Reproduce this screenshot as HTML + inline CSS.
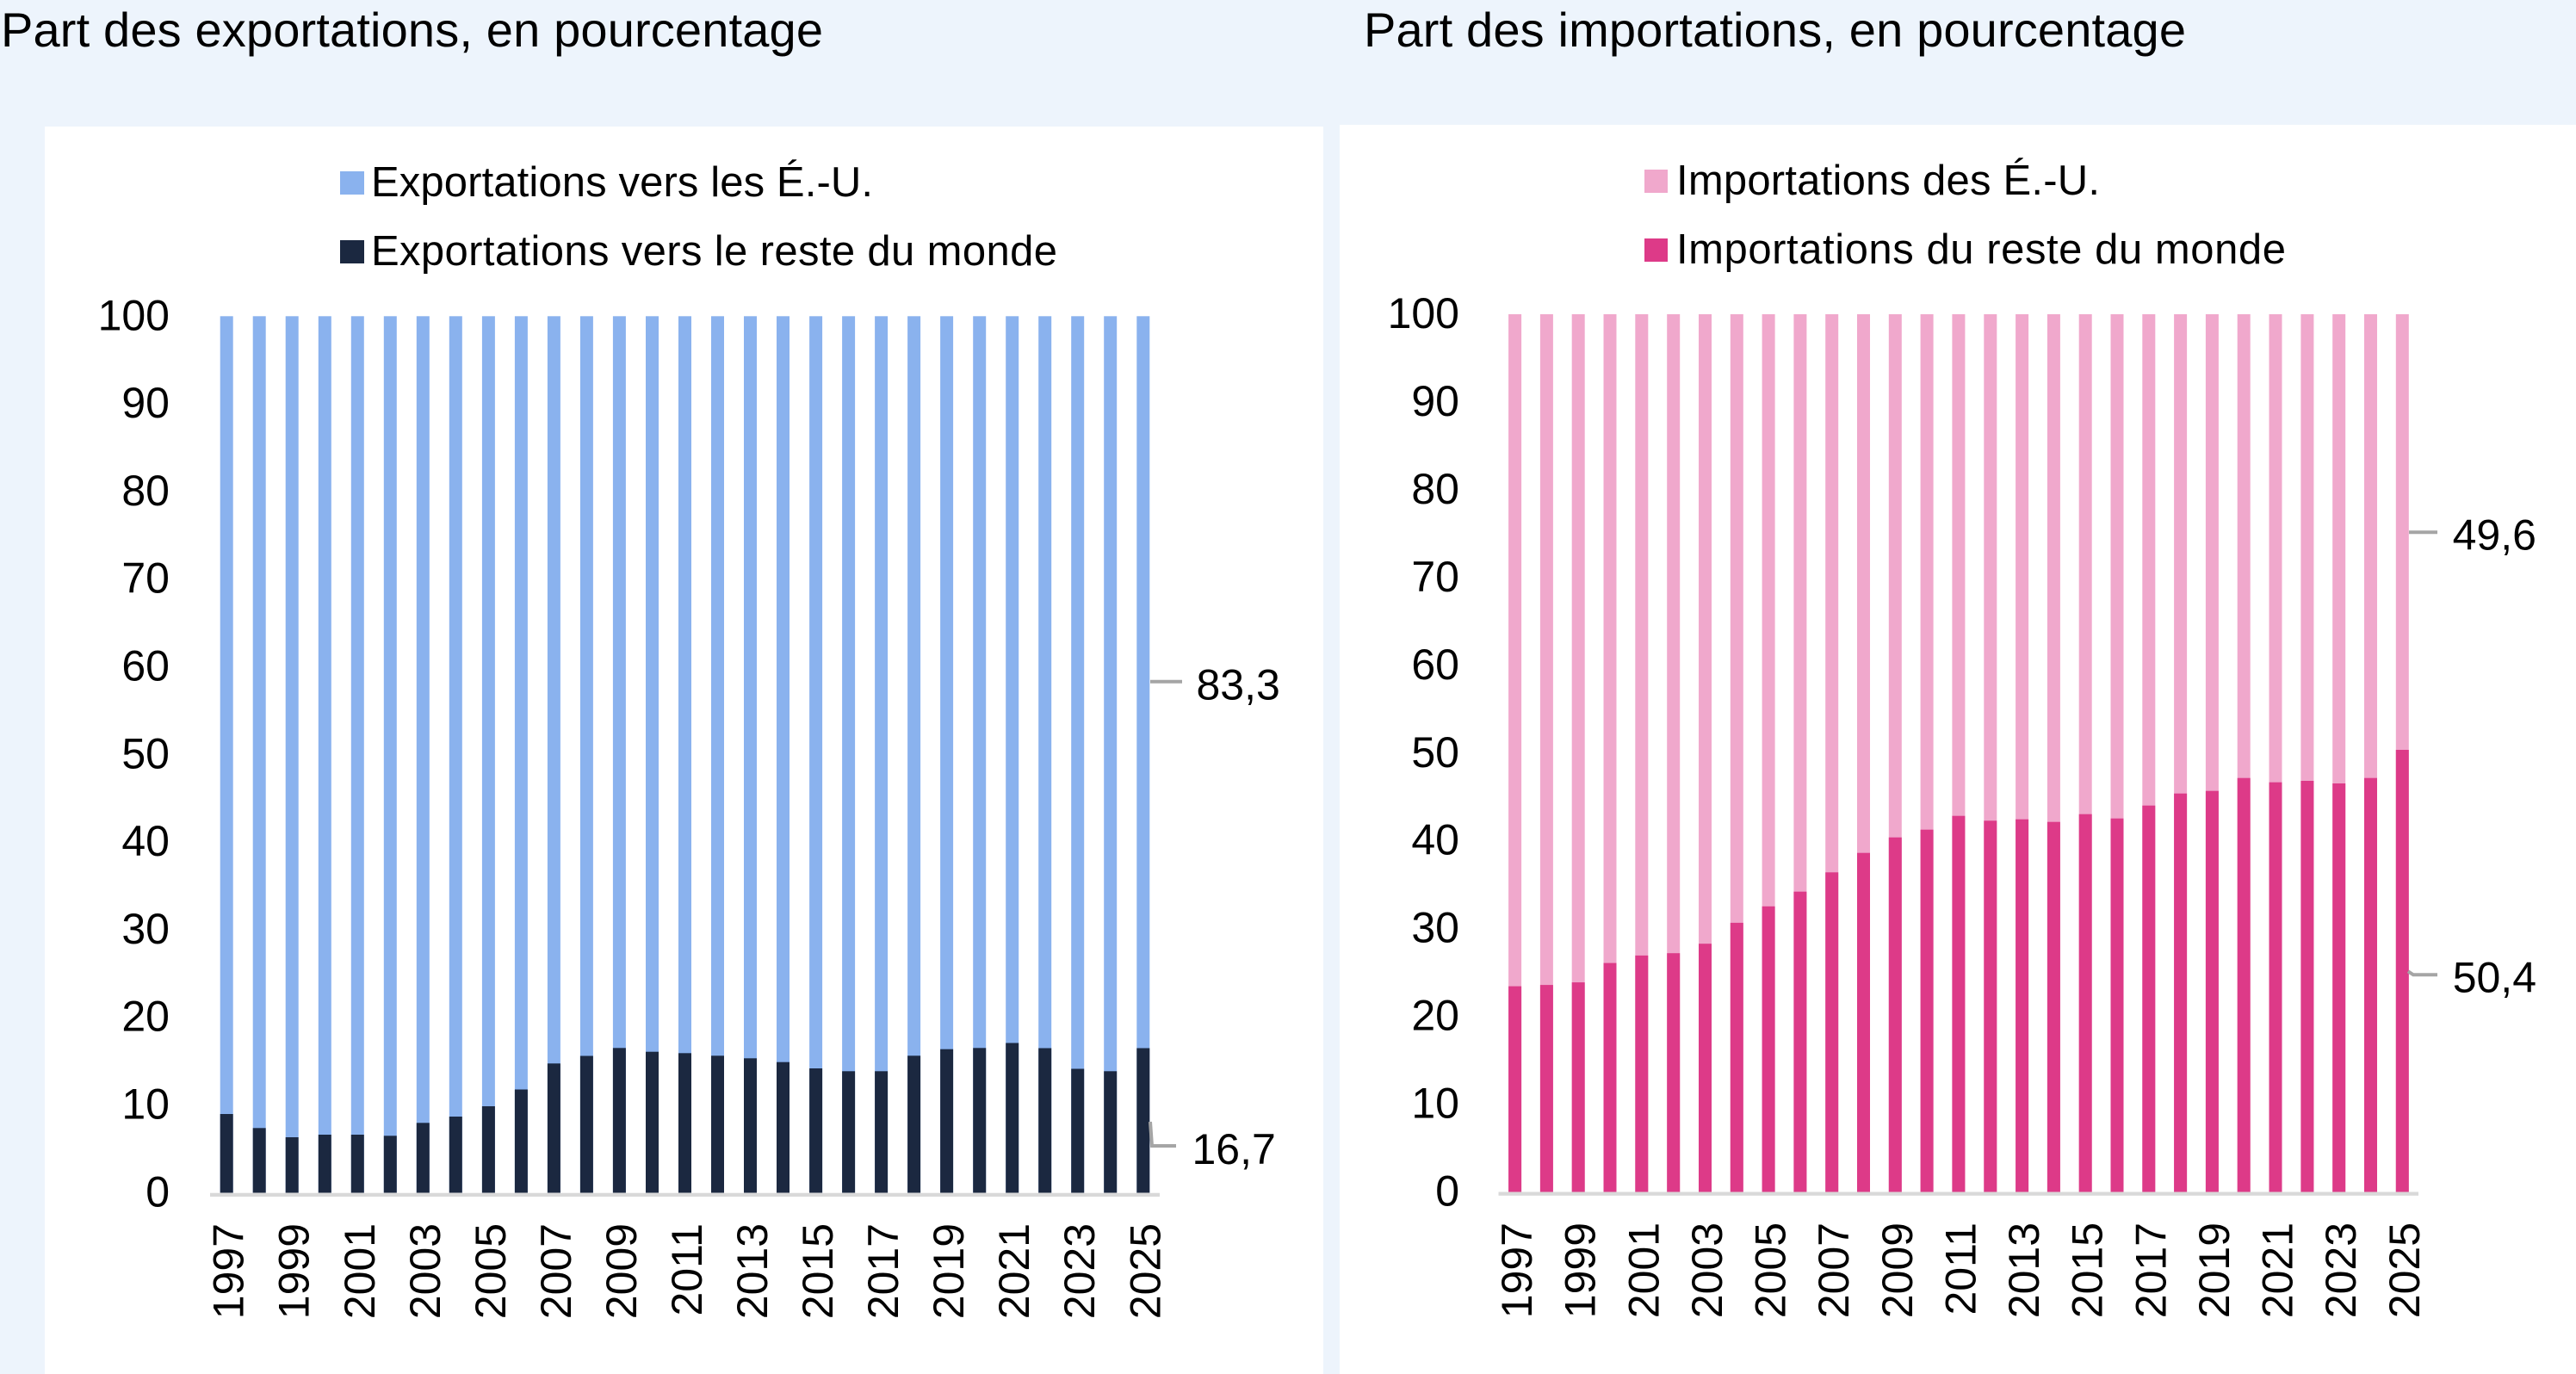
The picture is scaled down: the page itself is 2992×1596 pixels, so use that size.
<!DOCTYPE html>
<html>
<head>
<meta charset="utf-8">
<style>
html,body{margin:0;padding:0;background:#EDF4FC;}
svg{display:block;}
text{font-family:"Liberation Sans",Arial,sans-serif;fill:#000;}
.t{font-size:56px;}
.lg{font-size:49px;}
.ax{font-size:50px;}
</style>
</head>
<body>
<svg width="2992" height="1596" viewBox="0 0 2992 1596" xmlns="http://www.w3.org/2000/svg">
<rect x="0" y="0" width="2992" height="1596" fill="#EDF4FC"/>
<!-- Titles -->
<text class="t" x="1" y="54" textLength="955" lengthAdjust="spacing">Part des exportations, en pourcentage</text>
<text class="t" x="1584" y="54" textLength="955" lengthAdjust="spacing">Part des importations, en pourcentage</text>
<!-- Panels -->
<rect x="52" y="147" width="1485" height="1449" fill="#FFFFFF"/>
<rect x="1556" y="145" width="1436" height="1451" fill="#FFFFFF"/>

<!-- ===== LEFT CHART ===== -->
<rect x="395" y="199" width="28" height="27" fill="#8AB2EE"/>
<text class="lg" x="431" y="228" textLength="583" lengthAdjust="spacing">Exportations vers les É.-U.</text>
<rect x="395" y="279" width="28" height="27" fill="#1B2840"/>
<text class="lg" x="431" y="308" textLength="797" lengthAdjust="spacing">Exportations vers le reste du monde</text>

<g class="ax" text-anchor="end">
<text class="ax" x="197" y="383.3">100</text>
<text class="ax" x="197" y="485.1">90</text>
<text class="ax" x="197" y="586.9">80</text>
<text class="ax" x="197" y="688.7">70</text>
<text class="ax" x="197" y="790.5">60</text>
<text class="ax" x="197" y="892.3">50</text>
<text class="ax" x="197" y="994.1">40</text>
<text class="ax" x="197" y="1095.9">30</text>
<text class="ax" x="197" y="1197.7">20</text>
<text class="ax" x="197" y="1299.5">10</text>
<text class="ax" x="197" y="1401.5">0</text>
</g>

<g fill="#8AB2EE">
<rect x="255.7" y="367.3" width="15" height="1018.2"/>
<rect x="293.7" y="367.3" width="15" height="1018.2"/>
<rect x="331.7" y="367.3" width="15" height="1018.2"/>
<rect x="369.8" y="367.3" width="15" height="1018.2"/>
<rect x="407.8" y="367.3" width="15" height="1018.2"/>
<rect x="445.8" y="367.3" width="15" height="1018.2"/>
<rect x="483.8" y="367.3" width="15" height="1018.2"/>
<rect x="521.8" y="367.3" width="15" height="1018.2"/>
<rect x="559.9" y="367.3" width="15" height="1018.2"/>
<rect x="597.9" y="367.3" width="15" height="1018.2"/>
<rect x="635.9" y="367.3" width="15" height="1018.2"/>
<rect x="673.9" y="367.3" width="15" height="1018.2"/>
<rect x="711.9" y="367.3" width="15" height="1018.2"/>
<rect x="750.0" y="367.3" width="15" height="1018.2"/>
<rect x="788.0" y="367.3" width="15" height="1018.2"/>
<rect x="826.0" y="367.3" width="15" height="1018.2"/>
<rect x="864.0" y="367.3" width="15" height="1018.2"/>
<rect x="902.0" y="367.3" width="15" height="1018.2"/>
<rect x="940.1" y="367.3" width="15" height="1018.2"/>
<rect x="978.1" y="367.3" width="15" height="1018.2"/>
<rect x="1016.1" y="367.3" width="15" height="1018.2"/>
<rect x="1054.1" y="367.3" width="15" height="1018.2"/>
<rect x="1092.1" y="367.3" width="15" height="1018.2"/>
<rect x="1130.2" y="367.3" width="15" height="1018.2"/>
<rect x="1168.2" y="367.3" width="15" height="1018.2"/>
<rect x="1206.2" y="367.3" width="15" height="1018.2"/>
<rect x="1244.2" y="367.3" width="15" height="1018.2"/>
<rect x="1282.2" y="367.3" width="15" height="1018.2"/>
<rect x="1320.3" y="367.3" width="15" height="1018.2"/>
</g>
<g fill="#1B2840">
<rect x="255.7" y="1294" width="15" height="91.5"/>
<rect x="293.7" y="1310.3" width="15" height="75.2"/>
<rect x="331.7" y="1321" width="15" height="64.5"/>
<rect x="369.8" y="1318" width="15" height="67.5"/>
<rect x="407.8" y="1318" width="15" height="67.5"/>
<rect x="445.8" y="1319.3" width="15" height="66.2"/>
<rect x="483.8" y="1304.3" width="15" height="81.2"/>
<rect x="521.8" y="1297" width="15" height="88.5"/>
<rect x="559.9" y="1285" width="15" height="100.5"/>
<rect x="597.9" y="1265.5" width="15" height="120"/>
<rect x="635.9" y="1235.3" width="15" height="150.2"/>
<rect x="673.9" y="1226.5" width="15" height="159"/>
<rect x="711.9" y="1217.3" width="15" height="168.2"/>
<rect x="750.0" y="1221.7" width="15" height="163.8"/>
<rect x="788.0" y="1223.3" width="15" height="162.2"/>
<rect x="826.0" y="1226.3" width="15" height="159.2"/>
<rect x="864.0" y="1229.3" width="15" height="156.2"/>
<rect x="902.0" y="1233.7" width="15" height="151.8"/>
<rect x="940.1" y="1241" width="15" height="144.5"/>
<rect x="978.1" y="1244.3" width="15" height="141.2"/>
<rect x="1016.1" y="1244.3" width="15" height="141.2"/>
<rect x="1054.1" y="1226.3" width="15" height="159.2"/>
<rect x="1092.1" y="1218.7" width="15" height="166.8"/>
<rect x="1130.2" y="1217.3" width="15" height="168.2"/>
<rect x="1168.2" y="1211.5" width="15" height="174"/>
<rect x="1206.2" y="1217.5" width="15" height="168"/>
<rect x="1244.2" y="1241.5" width="15" height="144"/>
<rect x="1282.2" y="1244.3" width="15" height="141.2"/>
<rect x="1320.3" y="1217.5" width="15" height="168"/>
</g>
<rect x="244" y="1385.7" width="1103" height="4.3" fill="#D9D9D9"/>

<g class="ax" text-anchor="end">
<text class="ax" transform="translate(282.7,1421) rotate(-90)">1997</text>
<text class="ax" transform="translate(358.7,1421) rotate(-90)">1999</text>
<text class="ax" transform="translate(434.8,1421) rotate(-90)">2001</text>
<text class="ax" transform="translate(510.8,1421) rotate(-90)">2003</text>
<text class="ax" transform="translate(586.9,1421) rotate(-90)">2005</text>
<text class="ax" transform="translate(662.9,1421) rotate(-90)">2007</text>
<text class="ax" transform="translate(738.9,1421) rotate(-90)">2009</text>
<text class="ax" transform="translate(815.0,1421) rotate(-90)">2011</text>
<text class="ax" transform="translate(891.0,1421) rotate(-90)">2013</text>
<text class="ax" transform="translate(967.1,1421) rotate(-90)">2015</text>
<text class="ax" transform="translate(1043.1,1421) rotate(-90)">2017</text>
<text class="ax" transform="translate(1119.1,1421) rotate(-90)">2019</text>
<text class="ax" transform="translate(1195.2,1421) rotate(-90)">2021</text>
<text class="ax" transform="translate(1271.2,1421) rotate(-90)">2023</text>
<text class="ax" transform="translate(1347.3,1421) rotate(-90)">2025</text>
</g>

<line x1="1336" y1="791.7" x2="1373" y2="791.7" stroke="#A5A5A5" stroke-width="4"/>
<text class="ax" x="1389.5" y="812.3">83,3</text>
<polyline points="1336,1303 1338,1331 1366,1331" fill="none" stroke="#A5A5A5" stroke-width="4"/>
<text class="ax" x="1384.5" y="1352">16,7</text>

<!-- ===== RIGHT CHART ===== -->
<rect x="1910" y="197" width="27" height="27" fill="#F0A8CC"/>
<text class="lg" x="1947" y="226" textLength="492" lengthAdjust="spacing">Importations des É.-U.</text>
<rect x="1910" y="277" width="27" height="27" fill="#DD3A88"/>
<text class="lg" x="1947" y="306" textLength="708" lengthAdjust="spacing">Importations du reste du monde</text>

<g class="ax" text-anchor="end">
<text class="ax" x="1695" y="381">100</text>
<text class="ax" x="1695" y="483">90</text>
<text class="ax" x="1695" y="584.9">80</text>
<text class="ax" x="1695" y="686.9">70</text>
<text class="ax" x="1695" y="788.8">60</text>
<text class="ax" x="1695" y="890.8">50</text>
<text class="ax" x="1695" y="992.7">40</text>
<text class="ax" x="1695" y="1094.6">30</text>
<text class="ax" x="1695" y="1196.6">20</text>
<text class="ax" x="1695" y="1298.5">10</text>
<text class="ax" x="1695" y="1400.5">0</text>
</g>

<g fill="#F0A8CC">
<rect x="1752.1" y="365" width="15" height="1019.5"/>
<rect x="1788.9" y="365" width="15" height="1019.5"/>
<rect x="1825.7" y="365" width="15" height="1019.5"/>
<rect x="1862.5" y="365" width="15" height="1019.5"/>
<rect x="1899.3" y="365" width="15" height="1019.5"/>
<rect x="1936.2" y="365" width="15" height="1019.5"/>
<rect x="1973.0" y="365" width="15" height="1019.5"/>
<rect x="2009.8" y="365" width="15" height="1019.5"/>
<rect x="2046.6" y="365" width="15" height="1019.5"/>
<rect x="2083.4" y="365" width="15" height="1019.5"/>
<rect x="2120.2" y="365" width="15" height="1019.5"/>
<rect x="2157.0" y="365" width="15" height="1019.5"/>
<rect x="2193.8" y="365" width="15" height="1019.5"/>
<rect x="2230.6" y="365" width="15" height="1019.5"/>
<rect x="2267.4" y="365" width="15" height="1019.5"/>
<rect x="2304.3" y="365" width="15" height="1019.5"/>
<rect x="2341.1" y="365" width="15" height="1019.5"/>
<rect x="2377.9" y="365" width="15" height="1019.5"/>
<rect x="2414.7" y="365" width="15" height="1019.5"/>
<rect x="2451.5" y="365" width="15" height="1019.5"/>
<rect x="2488.3" y="365" width="15" height="1019.5"/>
<rect x="2525.1" y="365" width="15" height="1019.5"/>
<rect x="2561.9" y="365" width="15" height="1019.5"/>
<rect x="2598.7" y="365" width="15" height="1019.5"/>
<rect x="2635.5" y="365" width="15" height="1019.5"/>
<rect x="2672.4" y="365" width="15" height="1019.5"/>
<rect x="2709.2" y="365" width="15" height="1019.5"/>
<rect x="2746.0" y="365" width="15" height="1019.5"/>
<rect x="2782.8" y="365" width="15" height="1019.5"/>
</g>
<g fill="#DD3A88">
<rect x="1752.1" y="1145.6" width="15" height="238.9"/>
<rect x="1788.9" y="1144.1" width="15" height="240.4"/>
<rect x="1825.7" y="1141.1" width="15" height="243.4"/>
<rect x="1862.5" y="1118.6" width="15" height="265.9"/>
<rect x="1899.3" y="1109.9" width="15" height="274.6"/>
<rect x="1936.2" y="1107.2" width="15" height="277.3"/>
<rect x="1973.0" y="1096.2" width="15" height="288.3"/>
<rect x="2009.8" y="1071.9" width="15" height="312.6"/>
<rect x="2046.6" y="1052.8" width="15" height="331.7"/>
<rect x="2083.4" y="1035.7" width="15" height="348.8"/>
<rect x="2120.2" y="1013.3" width="15" height="371.2"/>
<rect x="2157.0" y="990.7" width="15" height="393.8"/>
<rect x="2193.8" y="972.7" width="15" height="411.8"/>
<rect x="2230.6" y="963.7" width="15" height="420.8"/>
<rect x="2267.4" y="947.7" width="15" height="436.8"/>
<rect x="2304.3" y="953.3" width="15" height="431.2"/>
<rect x="2341.1" y="951.7" width="15" height="432.8"/>
<rect x="2377.9" y="954.7" width="15" height="429.8"/>
<rect x="2414.7" y="945.7" width="15" height="438.8"/>
<rect x="2451.5" y="950.7" width="15" height="433.8"/>
<rect x="2488.3" y="935.7" width="15" height="448.8"/>
<rect x="2525.1" y="921.7" width="15" height="462.8"/>
<rect x="2561.9" y="918.7" width="15" height="465.8"/>
<rect x="2598.7" y="903.7" width="15" height="480.8"/>
<rect x="2635.5" y="908.7" width="15" height="475.8"/>
<rect x="2672.4" y="907" width="15" height="477.5"/>
<rect x="2709.2" y="910" width="15" height="474.5"/>
<rect x="2746.0" y="903.7" width="15" height="480.8"/>
<rect x="2782.8" y="871" width="15" height="513.5"/>
</g>
<rect x="1740.5" y="1384.5" width="1068.5" height="4.3" fill="#D9D9D9"/>

<g class="ax" text-anchor="end">
<text class="ax" transform="translate(1779.1,1420) rotate(-90)">1997</text>
<text class="ax" transform="translate(1852.7,1420) rotate(-90)">1999</text>
<text class="ax" transform="translate(1926.3,1420) rotate(-90)">2001</text>
<text class="ax" transform="translate(2000.0,1420) rotate(-90)">2003</text>
<text class="ax" transform="translate(2073.6,1420) rotate(-90)">2005</text>
<text class="ax" transform="translate(2147.2,1420) rotate(-90)">2007</text>
<text class="ax" transform="translate(2220.8,1420) rotate(-90)">2009</text>
<text class="ax" transform="translate(2294.4,1420) rotate(-90)">2011</text>
<text class="ax" transform="translate(2368.1,1420) rotate(-90)">2013</text>
<text class="ax" transform="translate(2441.7,1420) rotate(-90)">2015</text>
<text class="ax" transform="translate(2515.3,1420) rotate(-90)">2017</text>
<text class="ax" transform="translate(2588.9,1420) rotate(-90)">2019</text>
<text class="ax" transform="translate(2662.5,1420) rotate(-90)">2021</text>
<text class="ax" transform="translate(2736.2,1420) rotate(-90)">2023</text>
<text class="ax" transform="translate(2809.8,1420) rotate(-90)">2025</text>
</g>

<line x1="2798" y1="618.3" x2="2831" y2="618.3" stroke="#A5A5A5" stroke-width="4"/>
<text class="ax" x="2848.6" y="638.3">49,6</text>
<polyline points="2797,1128.3 2803,1132.3 2831,1132.3" fill="none" stroke="#A5A5A5" stroke-width="4"/>
<text class="ax" x="2848.7" y="1152.3">50,4</text>
</svg>
</body>
</html>
